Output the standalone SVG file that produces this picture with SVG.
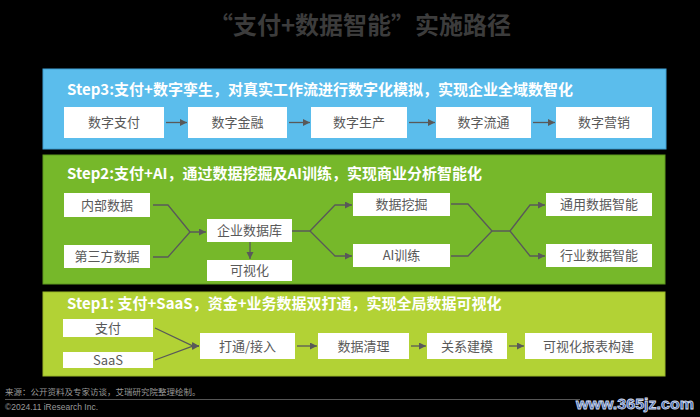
<svg xmlns="http://www.w3.org/2000/svg" width="700" height="417" viewBox="0 0 700 417">
<style>
.bg{fill:#000}
.title{font-family:"Noto Sans CJK SC","Liberation Sans",sans-serif;font-weight:bold;font-size:24px;fill:#3c3c3c}
.step{font-family:"Noto Sans CJK SC","Liberation Sans",sans-serif;font-weight:bold;font-size:15px;fill:#fff}
.box rect{fill:#fff}
.box text{font-family:"Noto Sans CJK SC","Liberation Sans",sans-serif;font-size:13px;fill:#595959;text-anchor:middle}
.conn{fill:none;stroke:#595959;stroke-width:1.3;marker-end:url(#ah)}
.conn2{fill:none;stroke:#595959;stroke-width:1.3}
.foot{font-family:"Liberation Sans","Noto Sans CJK SC",sans-serif;font-size:8.5px;fill:#9a9a9a}
</style>
<defs>
<marker id="ah" markerUnits="userSpaceOnUse" markerWidth="8" markerHeight="8" refX="7" refY="3.5" orient="auto">
<path d="M0,0 L7,3.5 L0,7 z" fill="#595959"/>
</marker>
</defs>
<rect class="bg" x="0" y="0" width="700" height="417"/>
<text class="title" x="360" y="34" text-anchor="middle">“支付+数据智能”实施路径</text>

<g id="panel3">
<rect x="43" y="69" width="623" height="80" fill="#5bbdec" stroke="#3f9fd3" stroke-width="1"/>
<text class="step" x="67" y="95">Step3:支付+数字孪生，对真实工作流进行数字化模拟，实现企业全域数智化</text>
</g>
<g id="panel2">
<rect x="43" y="155" width="622" height="129" fill="#76b82a" stroke="#5f9a1e" stroke-width="1"/>
<text class="step" x="67" y="179">Step2:支付+AI，通过数据挖掘及AI训练，实现商业分析智能化</text>
</g>
<g id="panel1">
<rect x="43" y="292" width="622" height="84" fill="#b2d235" stroke="#9ab829" stroke-width="1"/>
<text class="step" x="67" y="309">Step1: 支付+SaaS，资金+业务数据双打通，实现全局数据可视化</text>
</g>

<g id="s3-n1" class="box"><rect x="64" y="107" width="100" height="31"/><text x="114" y="127">数字支付</text></g>
<g id="s3-n2" class="box"><rect x="188" y="107" width="99" height="31"/><text x="237.5" y="127">数字金融</text></g>
<g id="s3-n3" class="box"><rect x="311" y="107" width="96" height="31"/><text x="359" y="127">数字生产</text></g>
<g id="s3-n4" class="box"><rect x="436" y="107" width="95" height="31"/><text x="483.5" y="127">数字流通</text></g>
<g id="s3-n5" class="box"><rect x="556" y="107" width="96" height="31"/><text x="604" y="127">数字营销</text></g>

<g id="s2-n1" class="box"><rect x="64" y="193" width="86" height="24"/><text x="107" y="209.5">内部数据</text></g>
<g id="s2-n2" class="box"><rect x="64" y="245" width="86" height="23"/><text x="107" y="261">第三方数据</text></g>
<g id="s2-n3" class="box"><rect x="207" y="219" width="85" height="23"/><text x="249.5" y="235">企业数据库</text></g>
<g id="s2-n4" class="box"><rect x="207" y="260" width="85" height="21"/><text x="249.5" y="275">可视化</text></g>
<g id="s2-n5" class="box"><rect x="353" y="193" width="97" height="23"/><text x="401.5" y="209">数据挖掘</text></g>
<g id="s2-n6" class="box"><rect x="353" y="244" width="97" height="23"/><text x="401.5" y="260">AI训练</text></g>
<g id="s2-n7" class="box"><rect x="546" y="193" width="106" height="23"/><text x="599" y="209">通用数据智能</text></g>
<g id="s2-n8" class="box"><rect x="546" y="244" width="106" height="23"/><text x="599" y="260">行业数据智能</text></g>

<g id="s1-n1" class="box"><rect x="63" y="319" width="90" height="18"/><text x="108" y="332.5">支付</text></g>
<g id="s1-n2" class="box"><rect x="63" y="352" width="90" height="16"/><text x="108" y="364.5">SaaS</text></g>
<g id="s1-n3" class="box"><rect x="200" y="333" width="95" height="26"/><text x="247.5" y="350.5">打通/接入</text></g>
<g id="s1-n4" class="box"><rect x="318" y="333" width="91" height="26"/><text x="363.5" y="350.5">数据清理</text></g>
<g id="s1-n5" class="box"><rect x="427" y="333" width="80" height="26"/><text x="467" y="350.5">关系建模</text></g>
<g id="s1-n6" class="box"><rect x="525" y="333" width="127" height="26"/><text x="588.5" y="350.5">可视化报表构建</text></g>

<g id="connectors">
<path class="conn" d="M166,122.5 H187"/>
<path class="conn" d="M289,122.5 H310"/>
<path class="conn" d="M409,122.5 H435"/>
<path class="conn" d="M533,122.5 H555"/>

<path class="conn" d="M153,205 H168 L190,232 H206"/>
<path class="conn2" d="M153,257 H168 L190,232"/>
<path class="conn" d="M250,242 V259"/>
<path class="conn" d="M292,231 H310 L335,205 H352"/>
<path class="conn" d="M310,231 L335,256 H352"/>
<path class="conn" d="M451,204 H468 L492,231 H510 L530,205 H545"/>
<path class="conn2" d="M451,256 H468 L492,231"/>
<path class="conn" d="M510,231 L530,256 H545"/>

<path class="conn" d="M155,328 L192,345.5 L199,346"/>
<path class="conn" d="M155,360 L192,346.5 L199,346"/>
<path class="conn" d="M297,346 H317"/>
<path class="conn" d="M411,346 H426"/>
<path class="conn" d="M509,346 H524"/>
</g>

<text class="foot" x="5" y="395">来源：公开资料及专家访谈，艾瑞研究院整理绘制。</text>
<line x1="5" y1="399.5" x2="580" y2="399.5" stroke="#555" stroke-width="1"/>
<text class="foot" x="5" y="410">©2024.11 iResearch Inc.</text>
<text x="576" y="409" font-family="Liberation Sans,sans-serif" font-weight="bold" font-size="15" fill="#3a62b0" stroke="#d0d8e8" stroke-width="0.8" textLength="118" lengthAdjust="spacingAndGlyphs">www.365jz.com</text>
</svg>
